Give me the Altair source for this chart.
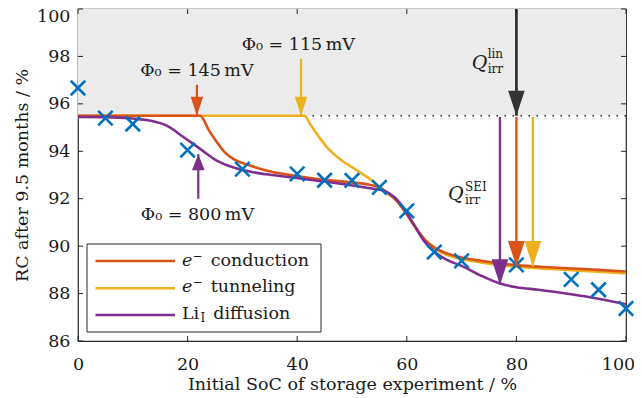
import altair as alt
import pandas as pd

# ---------------- data ----------------
soc_meas = [0, 5, 10, 20, 30, 40, 45, 50, 55, 60, 65, 70, 80, 90, 95, 100]
rc_meas = [96.67, 95.4, 95.15, 94.05, 93.25, 93.05, 92.78, 92.77, 92.48, 91.49,
           89.75, 89.38, 89.21, 88.6, 88.16, 87.37]

soc_cond = [0, 22.3, 22.9, 23.8, 25.4, 26.9, 28.4, 31.5, 34.5, 37.6, 43.7, 49.8, 53, 55,
            56.5, 58, 59.6, 61.4, 63.2, 65, 67, 70, 73, 76, 80, 85, 90, 95, 100]
rc_cond = [95.5, 95.5, 95.34, 94.92, 94.37, 93.93, 93.67, 93.39, 93.18, 93.04, 92.83, 92.69,
           92.6, 92.48, 92.25, 91.95, 91.48, 90.86, 90.3, 89.95, 89.72, 89.52, 89.4, 89.3,
           89.2, 89.12, 89.06, 89.0, 88.93]

soc_tun = [0, 41.3, 42.5, 44, 45.5, 47, 48.5, 50, 51.5, 53, 54.7, 56, 58, 59.6,
           61.4, 63.2, 65, 67, 70, 73, 76, 80, 85, 90, 95, 100]
rc_tun = [95.5, 95.5, 95.1, 94.6, 94.15, 93.82, 93.55, 93.33, 93.1, 92.88, 92.56, 92.3,
          91.95, 91.47, 90.84, 90.26, 89.9, 89.66, 89.46, 89.33, 89.23, 89.13, 89.05, 88.99,
          88.92, 88.85]

soc_diff = [0, 5, 10, 13.2, 16.2, 19.3, 22.3, 25.4, 28.4, 31.5, 37.6, 43.7, 49.8, 53, 55.9,
            57.8, 59.6, 61.4, 63.2, 65.1, 67.5, 70, 73.6, 77.3, 80, 84, 90, 95, 100]
rc_diff = [95.45, 95.44, 95.38, 95.29, 95.08, 94.59, 94.1, 93.6, 93.32, 93.14, 92.94, 92.76,
           92.57, 92.45, 92.33, 92.05, 91.55, 90.87, 90.2, 89.75, 89.4, 89.17, 88.75, 88.4,
           88.27, 88.16, 87.97, 87.78, 87.55]

rc_no_sei = 95.5          # dotted reference level
x_ticks = [0, 20, 40, 60, 80, 100]
y_ticks = [86, 88, 90, 92, 94, 96, 98, 100]

# annotation arrows (x position, start value, tip value)
phi_arrow_x = [21.7, 40.7]
phi_arrow_from = [96.8, 97.9]
phi_arrow_to = [95.5, 95.5]
diff_arrow_x = [21.95]
diff_arrow_from = [92.0]
diff_arrow_to = [93.88]
lin_arrow_x = [80.0]
lin_arrow_from = [100.0]
lin_arrow_to = [95.5]
sei_arrow_x = [77.0, 80.0, 83.0]
sei_arrow_from = [95.45, 95.45, 95.45]
sei_arrow_to = [88.37, 89.14, 89.14]

phi_text = ["Φ₀ = 145\u2009mV", "Φ₀ = 115\u2009mV", "Φ₀ = 800\u2009mV"]
phi_text_x = [21.7, 40.2, 21.8]
phi_text_y = [97.17, 98.27, 91.1]

legend_labels = ["conduction", "tunneling", "diffusion"]

# ---------------- style ----------------
FONT = "DejaVu Serif"
FS = 17.5
AX = "#262626"
TXT = "#1a1a1a"
C_COND = "#D95319"
C_TUN = "#EDB120"
C_DIFF = "#7E2F8E"
C_MEAS = "#0072BD"
C_LIN = "#333333"
W, H = 548, 332

xs = alt.Scale(domain=[0, 100], nice=False, zero=False)
ys = alt.Scale(domain=[86, 100], nice=False, zero=False)

xax = alt.Axis(values=x_ticks, ticks=False, domain=False, grid=False, labelFlush=False,
               labelFont=FONT, labelFontSize=FS, labelColor=TXT, labelPadding=14,
               labelOffset={"condition": {"test": "datum.value === 100", "value": -8}, "value": 0},
               title="Initial SoC of storage experiment / %", titleFont=FONT,
               titleFontSize=FS, titleFontWeight="normal", titleColor=TXT,
               titleBaseline="alphabetic", titleY=48)
yax = alt.Axis(values=y_ticks, ticks=False, domain=False, grid=False, labelFlush=False,
               labelFont=FONT, labelFontSize=FS, labelColor=TXT, labelPadding=8,
               labelOffset={"condition": {"test": "datum.value === 100", "value": 7}, "value": 0},
               title="RC after 9.5 months / %", titleFont=FONT, titleFontSize=FS,
               titleFontWeight="normal", titleColor=TXT, titleBaseline="alphabetic",
               titleX=-51, titleY=H / 2, titleAngle=270)


def X(f):
    return alt.X(f, type="quantitative", scale=xs, axis=xax)


def Y(f):
    return alt.Y(f, type="quantitative", scale=ys, axis=yax)


band = alt.Chart(pd.DataFrame({"x": [0], "x2": [100], "y": [rc_no_sei], "y2": [100]})).mark_rect(
    color="#ebebeb").encode(x=X("x"), x2="x2", y=Y("y"), y2="y2")

dotted = alt.Chart(pd.DataFrame({"y": [rc_no_sei]})).mark_rule(
    color=AX, strokeWidth=1.5, strokeDash=[1.5, 6.5]).encode(y=Y("y"))


def curve(xv, yv, color):
    return alt.Chart(pd.DataFrame({"x": xv, "y": yv})).mark_line(
        color=color, strokeWidth=2.6, interpolate="monotone").encode(x=X("x"), y=Y("y"))


meas = alt.Chart(pd.DataFrame({"x": soc_meas, "y": rc_meas})).mark_point(
    shape="M-1,-1L1,1M-1,1L1,-1", filled=False, size=210, strokeWidth=2.6,
    color=C_MEAS, opacity=1).encode(x=X("x"), y=Y("y"))


def arrows(xv, y0, y1, color, sw, head, up=False):
    df = pd.DataFrame({"x": xv, "y0": y0, "y1": y1})
    shaft = alt.Chart(df).mark_rule(color=color, strokeWidth=sw).encode(
        x=X("x"), y=Y("y0"), y2="y1")
    path = "M0,0L-0.4,1L0.4,1Z" if up else "M0,0L-0.33,-1L0.33,-1Z"
    tip = alt.Chart(df).mark_point(shape=path, filled=True, size=head, color=color,
                                   opacity=1, strokeWidth=0).encode(x=X("x"), y=Y("y1"))
    return shaft + tip


phi_colors = [C_COND, C_TUN]
phi_arrows = [arrows([phi_arrow_x[i]], [phi_arrow_from[i]], [phi_arrow_to[i]],
                     phi_colors[i], 2.2, 1444) for i in range(2)]
diff_arrow = arrows(diff_arrow_x, diff_arrow_from, diff_arrow_to, C_DIFF, 2.2, 1024, up=True)
lin_arrow = arrows(lin_arrow_x, lin_arrow_from, lin_arrow_to, C_LIN, 2.8, 2500)
sei_colors = [C_DIFF, C_COND, C_TUN]
sei_arrows = [arrows([sei_arrow_x[i]], [sei_arrow_from[i]], [sei_arrow_to[i]],
                     sei_colors[i], 2.4, 2600) for i in range(3)]

phi_labels = alt.Chart(pd.DataFrame({"x": phi_text_x, "y": phi_text_y, "t": phi_text})).mark_text(
    font=FONT, fontSize=FS, color=TXT, align="center", baseline="alphabetic").encode(
    x=X("x"), y=Y("y"), text="t:N")


def q_label(x, y, sup, dxs, dysup, dysub):
    df = pd.DataFrame({"x": [x], "y": [y]})
    q = alt.Chart(df).mark_text(font=FONT, fontSize=19, fontStyle="italic", color=TXT,
                                align="left", baseline="alphabetic", text="Q").encode(
        x=X("x"), y=Y("y"))
    s1 = alt.Chart(df).mark_text(font=FONT, fontSize=12, color=TXT, align="left",
                                 baseline="alphabetic", text=sup, dx=dxs, dy=dysup).encode(
        x=X("x"), y=Y("y"))
    s2 = alt.Chart(df).mark_text(font=FONT, fontSize=12, color=TXT, align="left",
                                 baseline="alphabetic", text="irr", dx=dxs, dy=dysub).encode(
        x=X("x"), y=Y("y"))
    return q + s1 + s2


q_lin = q_label(71.84, 97.47, "lin", 16, -11, 4)
q_sei = q_label(67.52, 91.95, "SEI", 17, -9, 4)

# ---- legend (drawn in pixel space) ----
one = pd.DataFrame({"k": [0]})
leg_box = alt.Chart(one).mark_rect(fill="white", stroke=AX, strokeWidth=1).encode(
    x=alt.value(9), x2=alt.value(243), y=alt.value(235), y2=alt.value(323))
leg_layers = [leg_box]
leg_line_y = [252, 279.3, 306]
leg_base_y = [257, 283, 310]
for i, c in enumerate([C_COND, C_TUN, C_DIFF]):
    leg_layers.append(alt.Chart(one).mark_rule(color=c, strokeWidth=2.6).encode(
        x=alt.value(17.5), x2=alt.value(97), y=alt.value(leg_line_y[i])))
for i in range(2):
    leg_layers.append(alt.Chart(one).mark_text(
        font=FONT, fontSize=FS, fontStyle="italic", color=TXT, align="left",
        baseline="alphabetic", text="e").encode(x=alt.value(104), y=alt.value(leg_base_y[i])))
    leg_layers.append(alt.Chart(one).mark_text(
        font=FONT, fontSize=12, color=TXT, align="left", baseline="alphabetic",
        text="\u2212").encode(x=alt.value(114.5), y=alt.value(leg_base_y[i] - 6)))
    leg_layers.append(alt.Chart(one).mark_text(
        font=FONT, fontSize=FS, color=TXT, align="left", baseline="alphabetic",
        text=legend_labels[i]).encode(x=alt.value(132.7), y=alt.value(leg_base_y[i])))
leg_layers.append(alt.Chart(one).mark_text(
    font=FONT, fontSize=FS, color=TXT, align="left", baseline="alphabetic",
    text="Li").encode(x=alt.value(104), y=alt.value(leg_base_y[2])))
leg_layers.append(alt.Chart(one).mark_text(
    font=FONT, fontSize=12, color=TXT, align="left", baseline="alphabetic",
    text="I").encode(x=alt.value(122.5), y=alt.value(leg_base_y[2] + 3)))
leg_layers.append(alt.Chart(one).mark_text(
    font=FONT, fontSize=FS, color=TXT, align="left", baseline="alphabetic",
    text=legend_labels[2]).encode(x=alt.value(135.3), y=alt.value(leg_base_y[2])))

# ---- inward ticks on all four sides ----
xt = pd.DataFrame({"v": x_ticks})
yt = pd.DataFrame({"v": y_ticks})
tick_layers = [
    alt.Chart(xt).mark_rule(color=AX, strokeWidth=1).encode(x=X("v"), y=alt.value(H), y2=alt.value(H - 5)),
    alt.Chart(xt).mark_rule(color=AX, strokeWidth=1).encode(x=X("v"), y=alt.value(0), y2=alt.value(5)),
    alt.Chart(yt).mark_rule(color=AX, strokeWidth=1).encode(y=Y("v"), x=alt.value(0), x2=alt.value(5)),
    alt.Chart(yt).mark_rule(color=AX, strokeWidth=1).encode(y=Y("v"), x=alt.value(W), x2=alt.value(W - 5)),
]

chart = alt.layer(
    band, dotted,
    curve(soc_tun, rc_tun, C_TUN),
    curve(soc_cond, rc_cond, C_COND),
    curve(soc_diff, rc_diff, C_DIFF),
    meas,
    *phi_arrows, diff_arrow, lin_arrow, *sei_arrows,
    phi_labels, q_lin, q_sei,
    *leg_layers, *tick_layers,
).properties(
    width=W, height=H,
    autosize=alt.AutoSizeParams(type="none"),
    padding={"left": 70, "top": 1, "right": 8, "bottom": 57},
).configure_view(stroke=AX, strokeWidth=1.2)

chart.save("out.html", embed_options={"renderer": "svg", "actions": False})
